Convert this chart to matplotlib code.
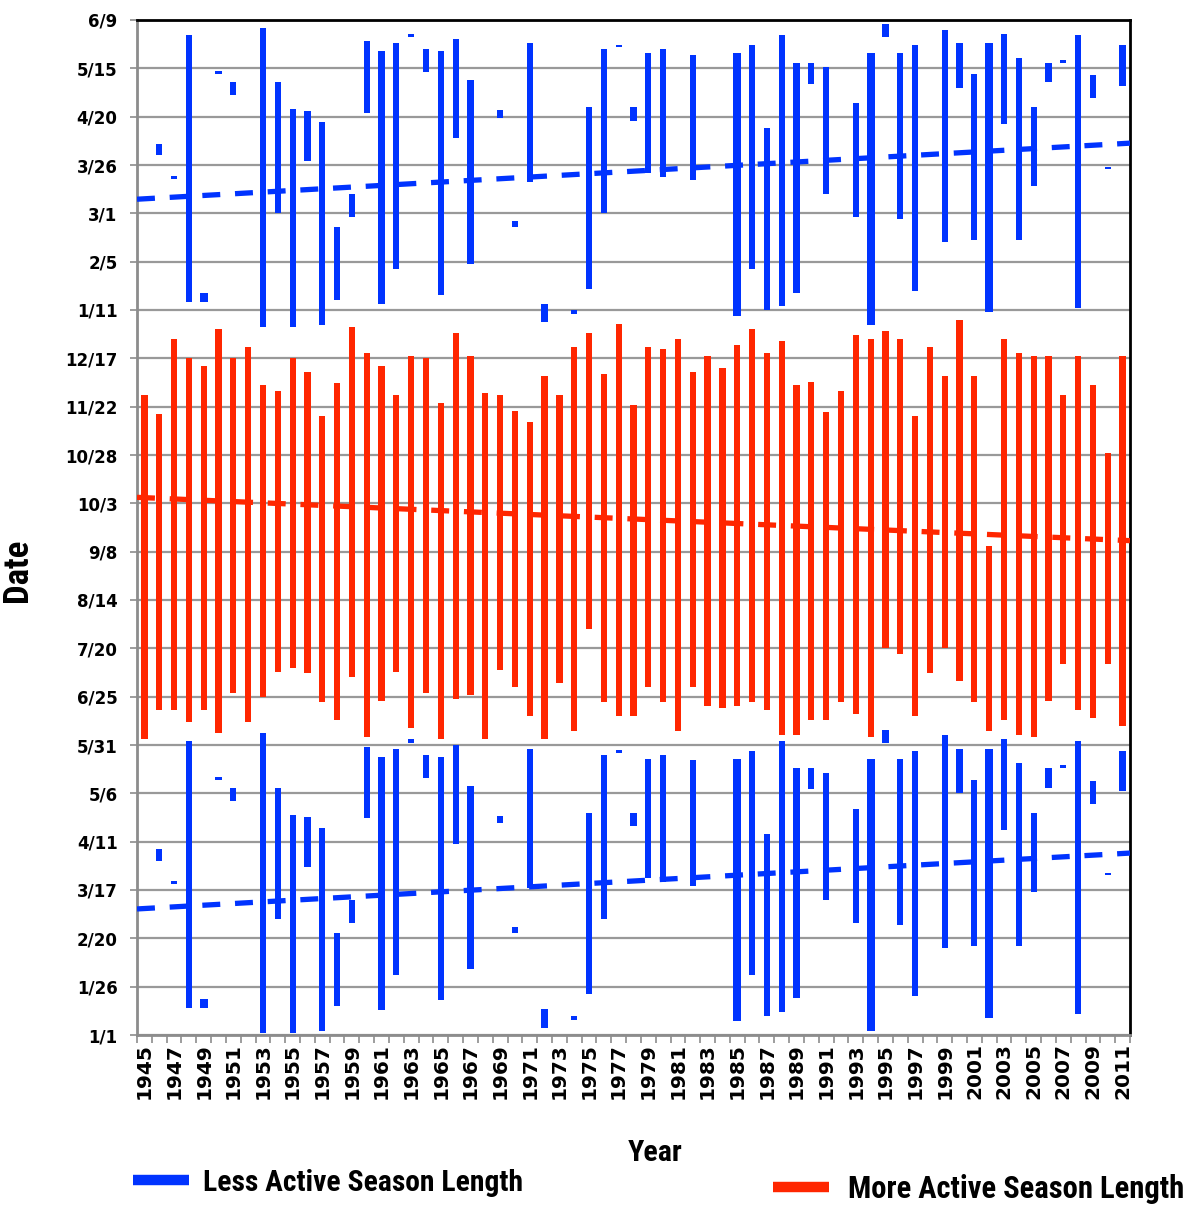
import numpy as np
import matplotlib
matplotlib.use("Agg")
import matplotlib.pyplot as plt
from matplotlib.lines import Line2D
from matplotlib import font_manager

# ---- data (days since Jan 1; blue seasons repeat one year later at +365) ----
years = list(range(1945, 2012))

red_start = [153, 168, 168, 162, 168, 156, 177, 162, 175, 188,
             190, 187, 172, 163, 185, 154, 173, 188, 159, 177,
             153, 174, 176, 153, 189, 180, 165, 153, 182, 157,
             210, 172, 165, 165, 180, 172, 157, 180, 170, 169,
             170, 172, 168, 155, 155, 163, 163, 172, 166, 154,
             200, 197, 165, 187, 200, 183, 172, 157, 163, 155,
             154, 173, 192, 168, 164, 192, 160]
red_end = [331, 321, 360, 350, 346, 365, 350, 356, 336, 333,
           350, 343, 320, 337, 366, 353, 346, 331, 351, 350,
           327, 363, 351, 332, 331, 323, 317, 341, 331, 356,
           363, 342, 368, 326, 356, 355, 360, 343, 351, 345,
           357, 365, 353, 359, 336, 338, 322, 333, 362, 360,
           364, 360, 320, 356, 341, 370, 341, 253, 360, 353,
           351, 351, 331, 351, 336, 301, 351]

blue_years = [1946, 1947, 1948, 1949, 1950, 1951, 1953, 1954, 1955, 1956,
              1957, 1958, 1959, 1960, 1961, 1962, 1963, 1964, 1965, 1966,
              1967, 1969, 1970, 1971, 1972, 1974, 1975, 1976, 1977, 1978,
              1979, 1980, 1982, 1985, 1986, 1987, 1988, 1989, 1990, 1991,
              1993, 1994, 1995, 1996, 1997, 1999, 2000, 2001, 2002, 2003,
              2004, 2005, 2006, 2007, 2008, 2009, 2010, 2011]
blue_start = [90, 78, 14, 14, 132, 121, 1, 60, 1, 87,
              2, 15, 58, 112, 13, 31, 151, 133, 18, 99,
              34, 109.5, 53, 76, 3.6, 8, 21, 60, 146, 108,
              81, 79, 77, 7, 31, 10, 12, 19, 127, 70,
              58, 2, 151, 57, 20, 45, 125, 46, 9, 106,
              46, 74, 128, 138, 11, 119.5, 82.8, 126]
blue_end = [96, 79.5, 152, 18.6, 133.5, 128, 156, 128, 114, 113,
            107, 53, 70, 149, 144, 148, 153, 145, 144, 150,
            129, 113.5, 56, 148, 13.3, 10, 115, 145, 147, 115,
            143, 145, 142, 143, 147, 104, 152, 138, 138, 135.5,
            117, 143, 158, 143, 147, 155, 148, 132, 148, 153,
            140.5, 115, 138, 139.5, 152, 131.6, 83.8, 147]

# trend line values at the left and right edge of the axis
trend_x = [1944.5, 2011.5]
blue_trend = [65.2, 94.1]
blue_trend_top = [432.3, 461.3]
red_trend = [278.1, 255.7]

tick_days = list(range(0, 526, 25))
tick_labels = ["1/1", "1/26", "2/20", "3/17", "4/11", "5/6", "5/31", "6/25",
               "7/20", "8/14", "9/8", "10/3", "10/28", "11/22", "12/17",
               "1/11", "2/5", "3/1", "3/26", "4/20", "5/15", "6/9"]

BLUE = "#0033ff"
RED = "#ff2600"

# a narrow bold face if one is installed, else Liberation Sans
installed = {f.name for f in font_manager.fontManager.ttflist}
label_font = "Liberation Sans"
for name in ["Liberation Sans Narrow", "Roboto Condensed", "Open Sans Condensed",
             "DejaVu Sans Condensed", "Noto Sans Display"]:
    if name in installed:
        label_font = name
        break

fig = plt.figure(figsize=(11.94, 12.07), dpi=100)
ax = fig.add_axes([137 / 1194, 1 - 1035 / 1207, 993 / 1194, 1015 / 1207])

# bars
red_start = np.array(red_start)
red_end = np.array(red_end)
ax.bar(years, red_end - red_start, bottom=red_start, width=0.42,
       color=RED, zorder=2)

blue_start = np.array(blue_start, dtype=float)
blue_end = np.array(blue_end, dtype=float)
wide = {1949, 1985, 1994, 2002}
bw = [0.55 if y in wide else 0.42 for y in blue_years]
h = np.maximum(blue_end - blue_start, 1.2)
ax.bar(blue_years, h, bottom=blue_start, width=bw, color=BLUE, zorder=2)
ax.bar(blue_years, h, bottom=blue_start + 365, width=bw, color=BLUE, zorder=2)

# trend lines
dash = (0, (3.4, 2.8))
for yy, c in [(blue_trend, BLUE), (blue_trend_top, BLUE), (red_trend, RED)]:
    ax.plot(trend_x, yy, color=c, lw=3.8, ls=dash, zorder=3,
            dash_capstyle="butt")

# axes
ax.set_xlim(1944.5, 2011.5)
ax.set_ylim(0, 525)
ax.set_yticks(tick_days)
ax.set_yticklabels(tick_labels, fontsize=12, fontweight="bold",
                   family="DejaVu Sans")
ax.yaxis.grid(True, color="#999999", lw=1.6)
ax.set_axisbelow(True)
ax.tick_params(axis="y", length=5, width=1.2, color="#8c8c8c", pad=9)

ax.set_xticks(years[::2])
ax.set_xticklabels([str(y) for y in years[::2]], rotation=90,
                   fontsize=14.5, fontweight="bold", family="DejaVu Sans")
ax.set_xticks(np.arange(1944.5, 2012, 1), minor=True)
ax.tick_params(axis="x", which="major", length=0, pad=6)
ax.tick_params(axis="x", which="minor", length=6, width=1.2, color="#8c8c8c")

for side in ("left", "bottom"):
    ax.spines[side].set_color("#8c8c8c")
    ax.spines[side].set_linewidth(2)
for side in ("top", "right"):
    ax.spines[side].set_color("black")
    ax.spines[side].set_linewidth(2)

xl = ax.set_xlabel("Year", fontsize=23, fontweight="bold", family=label_font)
ax.xaxis.set_label_coords((655 - 137) / 993, -104 / 1015)
yl = ax.set_ylabel("Date", fontsize=25, fontweight="bold", family=label_font)
ax.yaxis.set_label_coords((34 - 137) / 993, (1035 - 570) / 1015)

# legend entries placed apart like the original
h_less = Line2D([], [], color=BLUE, lw=7.5, solid_capstyle="butt")
h_more = Line2D([], [], color=RED, lw=7.5, solid_capstyle="butt")
legend_props = dict(family=label_font, weight="bold", size=23)
leg1 = fig.legend([h_less], ["Less Active Season Length"], loc="center left",
                  bbox_to_anchor=(133 / 1194, 1 - 1183 / 1207), frameon=False,
                  prop=legend_props, handlelength=1.75, handletextpad=0.45,
                  borderpad=0, borderaxespad=0)
leg2 = fig.legend([h_more], ["More Active Season Length"], loc="center left",
                  bbox_to_anchor=(773 / 1194, 1 - 1189 / 1207), frameon=False,
                  prop=legend_props, handlelength=1.75, handletextpad=0.6,
                  borderpad=0, borderaxespad=0)

# shrink label texts to the widths they have in the original
fig.canvas.draw()
r = fig.canvas.get_renderer()
for t, target, vertical in [(leg1.get_texts()[0], 321, False),
                            (leg2.get_texts()[0], 338, False),
                            (xl, 55, False), (yl, 72, True)]:
    bb = t.get_window_extent(r)
    cur = bb.height if vertical else bb.width
    if cur > target:
        t.set_fontsize(t.get_fontsize() * target / cur)

fig.savefig("out.png", dpi=100)
